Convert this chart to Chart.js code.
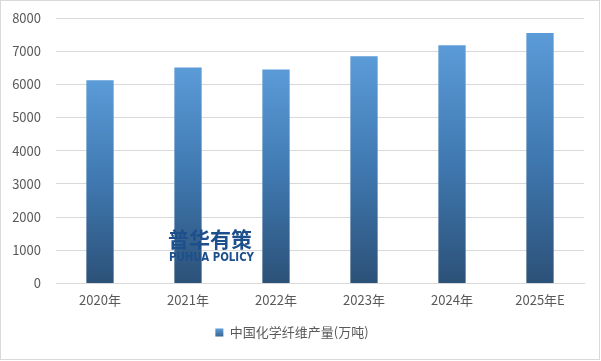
<!DOCTYPE html>
<html>
<head>
<meta charset="utf-8">
<script src="https://cdn.jsdelivr.net/npm/chart.js@4.4.1/dist/chart.umd.min.js"></script>
<style>
html,body{margin:0;padding:0;background:#fff;}
#wrap{width:601px;height:361px;position:relative;}
</style>
</head>
<body>
<div id="wrap"><canvas id="c" width="601" height="361"></canvas></div>
<script>
const categories = ["2020年","2021年","2022年","2023年","2024年","2025年E"];
const values = [6120, 6510, 6450, 6850, 7180, 7550];
const seriesName = "中国化学纤维产量(万吨)";
const yTicks = [0,1000,2000,3000,4000,5000,6000,7000,8000];

const FONT = "'Noto Sans CJK SC', 'DejaVu Sans', sans-serif";

function barGradient(ctx){
  const chart = ctx.chart;
  const area = chart.chartArea;
  if(!area) return '#4a86c5';
  const y = chart.scales.y;
  const v = ctx.raw !== undefined ? ctx.raw : 8000;
  const top = y.getPixelForValue(v);
  const bottom = y.getPixelForValue(0);
  const g = chart.ctx.createLinearGradient(0, top, 0, bottom);
  g.addColorStop(0, '#5b9bd8');
  g.addColorStop(0.5, '#3f78b0');
  g.addColorStop(1, '#2c5178');
  return g;
}
function legendGradient(chart){
  const g = chart.ctx.createLinearGradient(0, 329, 0, 339);
  g.addColorStop(0, '#5b9bd8');
  g.addColorStop(1, '#2c5178');
  return g;
}

const decor = {
  id:'decor',
  afterDraw(chart){
    const c = chart.ctx;
    c.save();
    c.fillStyle = '#1d4f8c';
    c.font = "bold 21px 'Noto Sans CJK SC', sans-serif";
    c.textBaseline = 'middle';
    c.textAlign = 'left';
    c.fillText('普华有策', 168, 239, 86);
    c.font = "bold 13px 'Liberation Sans Narrow', 'DejaVu Sans Condensed', sans-serif";
    c.fillText('PUHUA POLICY', 169, 258, 85);
    c.strokeStyle = '#d9d9d9';
    c.lineWidth = 1;
    c.strokeRect(0.5, 0.5, 599, 359);
    c.restore();
  }
};

new Chart(document.getElementById('c'), {
  type:'bar',
  data:{
    labels: categories,
    datasets:[{
      label: seriesName,
      data: values,
      backgroundColor: barGradient,
      borderWidth:0,
      categoryPercentage:1,
      barPercentage:0.31
    }]
  },
  options:{
    responsive:false,
    animation:false,
    layout:{padding:{top:18,right:17,left:0,bottom:12}},
    plugins:{
      tooltip:{enabled:false},
      legend:{
        position:'bottom',
        labels:{
          boxWidth:8, boxHeight:8, padding:9,
          color:'#595959',
          font:{family:FONT, size:13},
          generateLabels(chart){
            return [{text: seriesName, fillStyle: legendGradient(chart), strokeStyle:'rgba(0,0,0,0)', lineWidth:0, datasetIndex:0, fontColor:'#595959'}];
          }
        }
      }
    },
    scales:{
      x:{
        grid:{display:false, drawTicks:false},
        border:{display:true, color:'#d9d9d9'},
        ticks:{color:'#595959', font:{family:FONT, size:13}, padding:9, maxRotation:0},
      },
      y:{
        min:0, max:8000,
        afterBuildTicks(s){ s.ticks = yTicks.map(v=>({value:v})); },
        afterFit(s){ s.width = 56; s.paddingTop = 0; },
        grid:{color:'#d9d9d9', drawTicks:false},
        border:{display:false},
        ticks:{color:'#595959', font:{family:FONT, size:13, lineHeight:1}, padding:15, callback:(v)=>String(v)}
      }
    }
  },
  plugins:[decor]
});
</script>
</body>
</html>
